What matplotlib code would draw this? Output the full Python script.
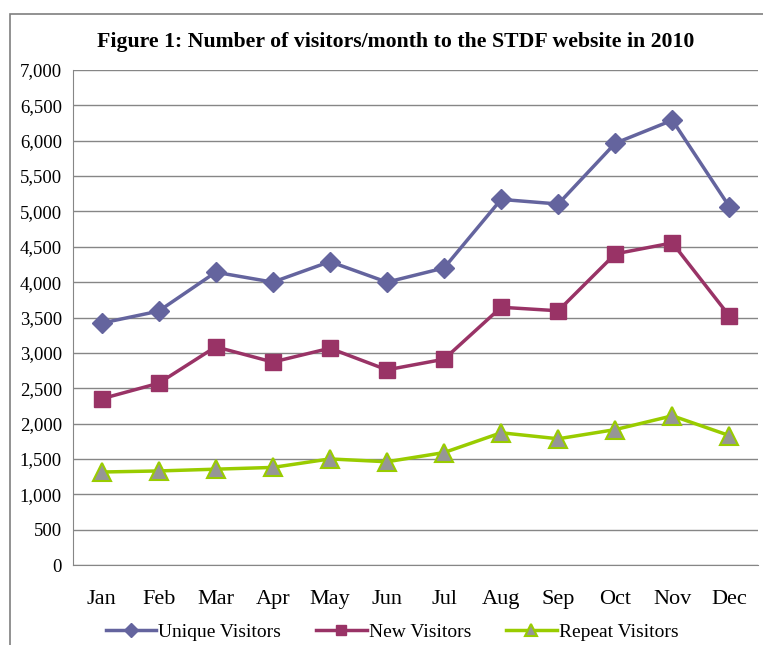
import matplotlib
matplotlib.use('Agg')
import matplotlib.pyplot as plt
from matplotlib.ticker import FuncFormatter, MultipleLocator
from matplotlib.patches import Rectangle

plt.rcParams['font.family'] = ['Liberation Serif', 'DejaVu Serif']

months = ['Jan', 'Feb', 'Mar', 'Apr', 'May', 'Jun', 'Jul', 'Aug', 'Sep', 'Oct', 'Nov', 'Dec']
unique_visitors = [3420, 3590, 4140, 4000, 4290, 4000, 4200, 5170, 5105, 5965, 6290, 5065]
new_visitors = [2350, 2570, 3085, 2870, 3065, 2760, 2910, 3645, 3595, 4400, 4555, 3520]
repeat_visitors = [1315, 1330, 1355, 1380, 1500, 1460, 1590, 1870, 1785, 1915, 2110, 1830]

fig = plt.figure(figsize=(7.63, 6.45), dpi=100)
# outer chart frame
fig.patches.append(Rectangle((10 / 763, -0.01), 1.0, 1 - 14 / 645 + 0.01,
                             transform=fig.transFigure, fill=False,
                             edgecolor='#7f7f7f', linewidth=1.2))

ax = fig.add_axes([73 / 763, 1 - 565 / 645, (758 - 73) / 763, (565 - 70) / 645])
x = range(len(months))

ax.plot(x, unique_visitors, color='#64649e', linewidth=2.5, marker='D',
        markersize=10, markerfacecolor='#64649e', markeredgecolor='#64649e',
        label='Unique Visitors', zorder=3)
ax.plot(x, new_visitors, color='#993366', linewidth=2.5, marker='s',
        markersize=11, markerfacecolor='#993366', markeredgecolor='#993366',
        label='New Visitors', zorder=3)
ax.plot(x, repeat_visitors, color='#99cc00', linewidth=2.5, marker='^',
        markersize=13, markerfacecolor='#969696', markeredgecolor='#99cc00',
        markeredgewidth=1.5, label='Repeat Visitors', zorder=3)

ax.set_xlim(-0.5, len(months) - 0.5)
ax.set_ylim(0, 7000)
ax.yaxis.set_major_locator(MultipleLocator(500))
ax.yaxis.set_major_formatter(FuncFormatter(lambda v, p: f'{int(v):,}'))
ax.set_xticks(list(x))
ax.set_xticklabels(months, fontsize=16)
ax.tick_params(axis='y', labelsize=13.5, length=0, pad=8)
ax.tick_params(axis='x', length=0, pad=18)
ax.grid(axis='y', color='#868686', linewidth=1)
ax.set_axisbelow(True)
for s in ['top', 'right']:
    ax.spines[s].set_visible(False)
ax.spines['left'].set_color('#868686')
ax.spines['bottom'].set_color('#868686')

fig.text(396 / 763, 1 - 42 / 645, 'Figure 1: Number of visitors/month to the STDF website in 2010',
         ha='center', va='center', fontsize=15.7, fontweight='bold')

fig.legend(loc='center', bbox_to_anchor=(392 / 763, 1 - 632 / 645), ncol=3,
           frameon=False, fontsize=14, handlelength=2.6, columnspacing=1.8,
           handletextpad=0.1, borderaxespad=0, markerscale=0.7)

fig.savefig('out.png', dpi=100)
